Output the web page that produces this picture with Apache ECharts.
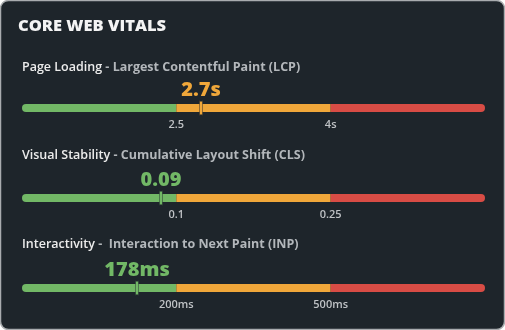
<!DOCTYPE html>
<html>
<head>
<meta charset="utf-8">
<script src="https://cdn.jsdelivr.net/npm/echarts@6/dist/echarts.min.js"></script>
<style>
  html, body { margin: 0; padding: 0; background: #ffffff; }
  #chart { width: 505px; height: 330px; }
</style>
</head>
<body>
<div id="chart"></div>
<script>
// metric rows
const metrics = ['Page Loading', 'Visual Stability', 'Interactivity']
const metricNames = [' - Largest Contentful Paint (LCP)', ' - Cumulative Layout Shift (CLS)', ' -  Interaction to Next Paint (INP)']
const valueLabels = ['2.7s', '0.09', '178ms']
// marker position on the 0..3 rating scale (good | needs improvement | poor)
const markerPos = [1.16, 0.9, 0.745]
const ratings = [1, 0, 0]
const thresholdLabels = [['2.5', '4s'], ['0.1', '0.25'], ['200ms', '500ms']]
const zones = ['Good', 'Needs Improvement', 'Poor']
const zoneColors = ['#72b866', '#f0a73a', '#d84c45']

const FONT = 'Open Sans'
const gridTops = [104, 194, 284]
const subTops = [61, 149, 238]

const grids = []
const xAxes = []
const yAxes = []
const series = []
const titles = [{
    text: 'CORE WEB VITALS',
    left: 18,
    top: 18,
    padding: 0,
    textStyle: { color: '#f4f4f4', fontSize: 16.5, fontWeight: 800, fontFamily: FONT },
}]

metrics.forEach((m, i) => {
    grids.push({ left: 22, right: 20, top: gridTops[i], height: 8 })
    xAxes.push({
        type: 'value',
        gridIndex: i,
        min: 0,
        max: 3,
        interval: 1,
        axisLine: { show: false },
        axisTick: { show: false },
        splitLine: { show: false },
        axisLabel: {
            margin: 7,
            color: '#bfc2c5',
            fontSize: 11,
            fontFamily: FONT,
            fontWeight: 600,
            formatter: v => (v === 1 ? thresholdLabels[i][0] : v === 2 ? thresholdLabels[i][1] : ''),
        },
    })
    yAxes.push({ type: 'category', gridIndex: i, data: [m], show: false })

    zones.forEach((z, k) => {
        series.push({
            name: z,
            type: 'bar',
            xAxisIndex: i,
            yAxisIndex: i,
            stack: 'row' + i,
            barWidth: 8,
            silent: true,
            data: [1],
            itemStyle: {
                color: zoneColors[k],
                borderRadius: k === 0 ? [4, 0, 0, 4] : k === 2 ? [0, 4, 4, 0] : 0,
            },
        })
    })

    series.push({
        type: 'scatter',
        xAxisIndex: i,
        yAxisIndex: i,
        z: 5,
        symbol: 'rect',
        symbolSize: [3, 15],
        data: [[markerPos[i], 0]],
        itemStyle: { color: zoneColors[ratings[i]], borderColor: '#1e252b', borderWidth: 1, opacity: 1 },
        label: {
            show: true,
            position: 'top',
            distance: -1,
            formatter: valueLabels[i],
            color: zoneColors[ratings[i]],
            fontSize: 20,
            fontWeight: 800,
            fontFamily: FONT,
        },
    })

    titles.push({
        text: `{a|${m}}{b|${metricNames[i]}}`,
        left: 22,
        top: subTops[i],
        padding: 0,
        textStyle: {
            rich: {
                a: { color: '#ececec', fontSize: 12.5, fontFamily: FONT, fontWeight: 600 },
                b: { color: '#b3b7bb', fontSize: 12.5, fontFamily: FONT },
            },
        },
    })
})

const chart = echarts.init(document.getElementById('chart'))
chart.setOption({
    backgroundColor: 'transparent',
    animation: false,
    graphic: [{
        type: 'rect',
        z: -10,
        shape: { x: 0.5, y: 0.5, width: 504, height: 329, r: 8 },
        style: { fill: '#1e252b', stroke: '#a9acaf', lineWidth: 1.5 },
    }],
    title: titles,
    grid: grids,
    xAxis: xAxes,
    yAxis: yAxes,
    series: series,
})
</script>
</body>
</html>
